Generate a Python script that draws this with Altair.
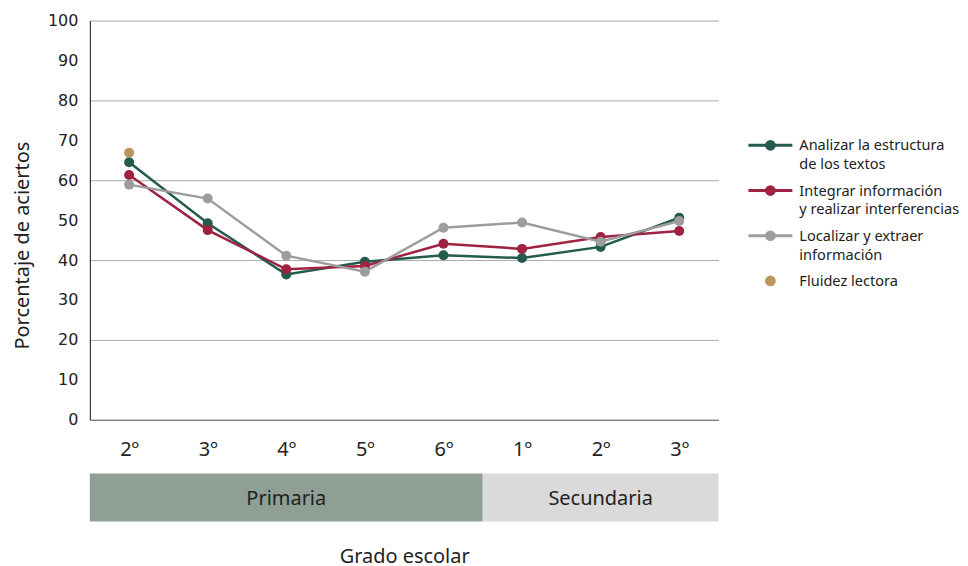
import json
import pandas as pd
import altair as alt

# ---------------- data ----------------
grades = ["2º", "3º", "4º", "5º", "6º", "1º", "2º", "3º"]
series_names = ["Analizar", "Integrar", "Localizar"]
analizar = [64.5, 49.2, 36.4, 39.6, 41.2, 40.5, 43.3, 50.6]
integrar = [61.3, 47.5, 37.7, 38.5, 44.1, 42.8, 45.8, 47.3]
localizar = [58.9, 55.4, 41.1, 37.1, 48.1, 49.4, 44.6, 49.8]
fluidez_grade = [0]
fluidez = [66.9]

levels = ["Primaria", "Secundaria"]
level_start = [0, 5]
level_end = [5, 8]

series_colors = ["#235b4e", "#9f2241", "#9d9d9d"]
fluidez_color = "#bc955c"
level_colors = ["#8f9f95", "#dadada"]

legend_labels = [
    "Analizar la estructura\nde los textos",
    "Integrar información\ny realizar interferencias",
    "Localizar y extraer\ninformación",
    "Fluidez lectora",
]
legend_colors = series_colors + [fluidez_color]
legend_line = [True, True, True, False]

FONT = "Noto Sans"
YFONT = "DejaVu Sans"

# ---------------- tables ----------------
rows = []
for name, vals in zip(series_names, [analizar, integrar, localizar]):
    for i, v in enumerate(vals):
        rows.append({"series": name, "pos": i + 0.5, "value": v})
df = pd.DataFrame(rows)

df_f = pd.DataFrame({"pos": [g + 0.5 for g in fluidez_grade], "value": fluidez})

df_lv = pd.DataFrame({"level": levels, "start": level_start, "end": level_end,
                      "color": level_colors})
df_lv["mid"] = (df_lv["start"] + df_lv["end"]) / 2

df_leg = pd.DataFrame({"row": list(range(len(legend_labels))), "label": legend_labels,
                       "color": legend_colors, "line": legend_line})

labels_js = json.dumps(grades, ensure_ascii=False)

x_scale = alt.Scale(domain=[0, 8], nice=False, zero=False)
y_scale = alt.Scale(domain=[0, 100], nice=False)

x_axis = alt.Axis(
    values=[i + 0.5 for i in range(len(grades))],
    labelExpr=f"{labels_js}[floor(datum.value)]",
    title="Grado escolar",
    grid=False, ticks=False,
    domainColor="#444", domainWidth=1,
    labelFontSize=20, labelPadding=20, labelColor="#222",
    titleFontSize=20, titleFontWeight="normal", titleColor="#222",
    titlePadding=87, labelFont=FONT, titleFont=FONT,
)
y_axis = alt.Axis(
    values=list(range(0, 101, 10)),
    tickCount=11,
    title="Porcentaje de aciertos",
    ticks=False, labelOverlap=False,
    domainColor="#111", domainWidth=1,
    gridColor="#aaaaaa", gridWidth=1,
    gridOpacity={"condition": {"test": "datum.value % 20 === 0 && datum.value > 0", "value": 1},
                 "value": 0},
    labelFontSize=16, labelPadding=12, labelColor="#222", labelFont=YFONT,
    titleFontSize=20, titleFontWeight="normal", titleColor="#222",
    titlePadding=15, titleFont=FONT, titleY=225,
)

x_enc = alt.X("pos:Q", scale=x_scale, axis=x_axis)
y_enc = alt.Y("value:Q", scale=y_scale, axis=y_axis)

color_scale = alt.Scale(domain=series_names, range=series_colors)

lines = alt.Chart(df).mark_line(strokeWidth=2.5).encode(
    x=x_enc, y=y_enc,
    color=alt.Color("series:N", scale=color_scale, legend=None),
    order=alt.Order("pos:Q"),
)
points = alt.Chart(df).mark_circle(size=100, opacity=1).encode(
    x=x_enc, y=y_enc,
    color=alt.Color("series:N", scale=color_scale, legend=None),
)
fl = alt.Chart(df_f).mark_circle(size=100, opacity=1, color=fluidez_color).encode(
    x=x_enc, y=y_enc
)
bands = alt.Chart(df_lv).mark_rect().encode(
    x=alt.X("start:Q", scale=x_scale, axis=x_axis), x2="end:Q",
    y=alt.value(454), y2=alt.value(502),
    fill=alt.Fill("color:N", scale=None),
)
band_text = alt.Chart(df_lv).mark_text(fontSize=20, color="#222", font=FONT).encode(
    x=alt.X("mid:Q", scale=x_scale, axis=x_axis), y=alt.value(479), text="level:N"
)

main = alt.layer(lines, points, fl, bands, band_text).properties(width=630, height=400)

leg_y = alt.Y("row:Q", scale=alt.Scale(domain=[-2.76, 6.07], reverse=True, nice=False, zero=False),
              axis=None)
leg_base = alt.Chart(df_leg)
leg_rule = leg_base.transform_filter("datum.line").mark_rule(strokeWidth=3).encode(
    x=alt.value(0), x2=alt.value(44), y=leg_y, color=alt.Color("color:N", scale=None)
)
leg_pt = leg_base.mark_circle(size=115, opacity=1).encode(
    x=alt.value(22), y=leg_y, color=alt.Color("color:N", scale=None)
)
leg_txt = leg_base.mark_text(align="left", baseline="alphabetic", dy=5, fontSize=14.6,
                             lineBreak="\n", lineHeight=19, color="#222", font=FONT).encode(
    x=alt.value(51), y=leg_y, text="label:N"
)
legend = alt.layer(leg_rule, leg_pt, leg_txt).properties(width=150, height=400)

chart = alt.hconcat(main, legend, spacing=28).properties(
    padding={"left": 4, "top": 4, "right": 0, "bottom": 4}
).configure(font=FONT, view=alt.ViewConfig(stroke=None))

chart.save("out.html", embed_options={"renderer": "svg", "actions": False})
